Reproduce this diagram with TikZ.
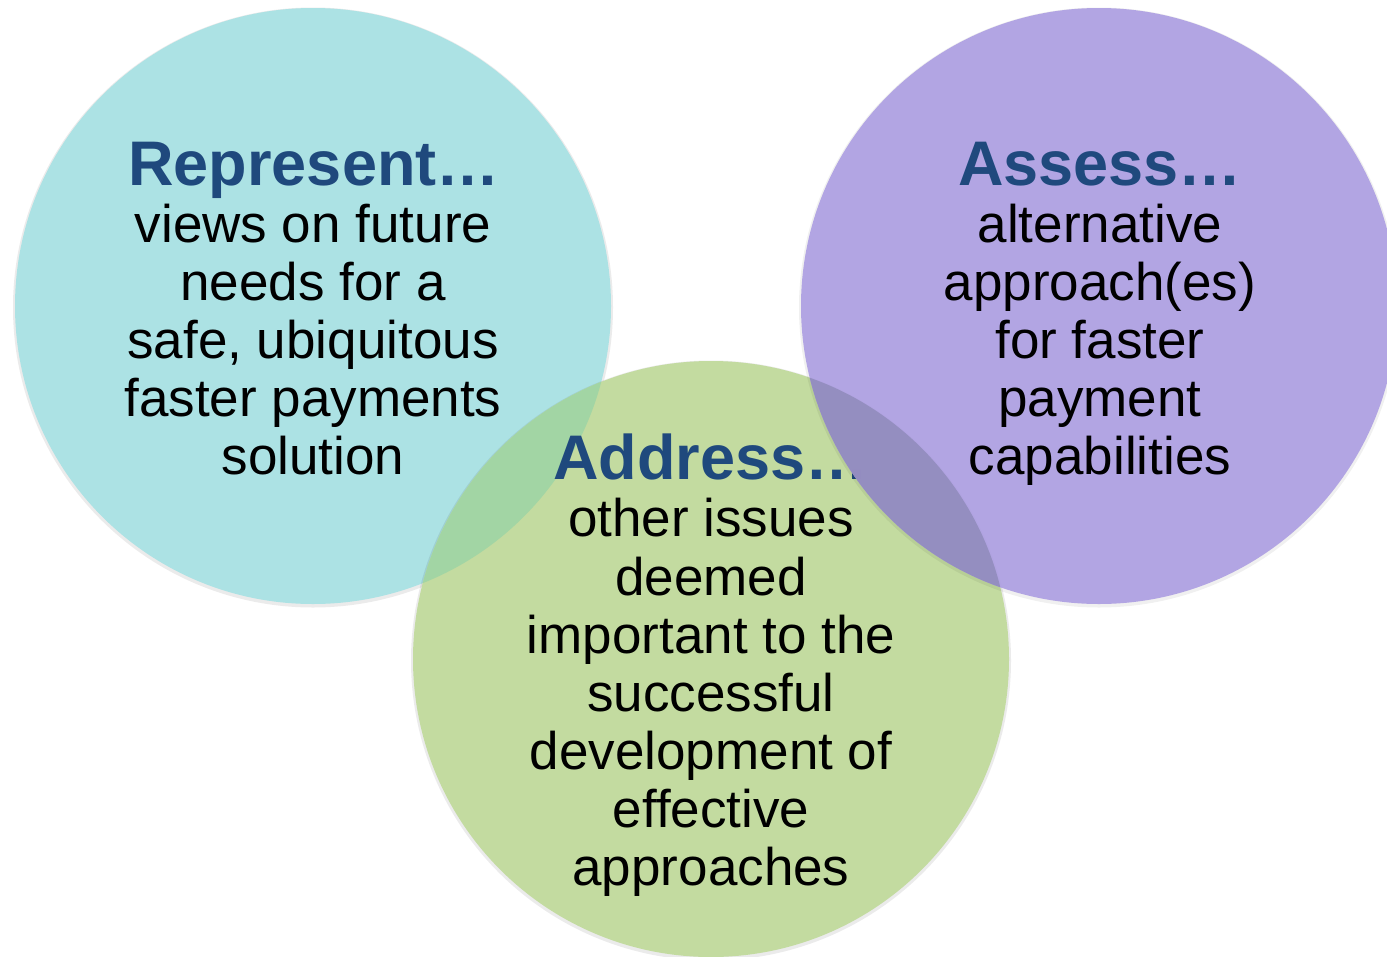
\documentclass[tikz,border=0pt]{standalone}
\usepackage{fontspec}
\setmainfont{Liberation Sans}
\definecolor{cyanc}{RGB}{172,226,228}
\definecolor{greenc}{RGB}{195,219,160}
\definecolor{purplec}{RGB}{172,157,226}
\definecolor{cgov}{RGB}{162,213,164}
\definecolor{pgov}{RGB}{146,140,190}
\definecolor{headc}{RGB}{31,73,125}
\newcommand\txtline[5]{%
  \node[#4] (#1) at (#2,#3) {#5};}
\begin{document}
\begin{tikzpicture}[x=1pt,y=-1pt,
  body/.style={anchor=base,inner sep=0pt,font=\fontsize{53}{58}\selectfont,text=black},
  head/.style={anchor=base,inner sep=0pt,font=\bfseries\fontsize{63}{70}\selectfont,text=headc},
  disc/.style={circle,inner sep=0pt,minimum size=596pt}]
\useasboundingbox (0,0) rectangle (1387,956);
\clip (0,0) rectangle (1387,956);
\fill[white] (0,0) rectangle (1387,956);
% left circle
\fill[black,opacity=0.08] (313,307.5) circle (300);
\node[disc,fill=cyanc] (L) at (313,306) {};
\txtline{r0}{314}{185}{head}{Represent…}
\txtline{r1}{313}{242}{body}{views on future}
\txtline{r2}{313}{300}{body}{needs for a}
\txtline{r3}{313}{358}{body}{safe, ubiquitous}
\txtline{r4}{313}{416}{body}{faster payments}
\txtline{r5}{313}{474}{body}{solution}
% bottom circle
\fill[black,opacity=0.08] (711,660.5) circle (300);
\node[disc,fill=greenc] (B) at (711,659) {};
\begin{scope}
  \clip (313,306) circle (298);
  \fill[cgov] (711,659) circle (298);
\end{scope}
\txtline{d0}{711}{479}{head}{Address…}
\txtline{d1}{711}{536}{body}{other issues}
\txtline{d2}{711}{595}{body}{deemed}
\txtline{d3}{711}{653}{body}{important to the}
\txtline{d4}{711}{711}{body}{successful}
\txtline{d5}{711}{769}{body}{development of}
\txtline{d6}{711}{827}{body}{effective}
\txtline{d7}{711}{885}{body}{approaches}
% right circle
\fill[black,opacity=0.06] (1099,307.5) circle (300);
\node[disc,fill=purplec,fill opacity=0.9] (R) at (1099,306) {};
\begin{scope}
  \clip (711,659) circle (298);
  \fill[pgov,opacity=0.9] (1099,306) circle (298);
\end{scope}
\txtline{a0}{1100}{185}{head}{Assess…}
\txtline{a1}{1100}{242}{body}{alternative}
\txtline{a2}{1100}{300}{body}{approach(es)}
\txtline{a3}{1100}{358}{body}{for faster}
\txtline{a4}{1100}{416}{body}{payment}
\txtline{a5}{1100}{474}{body}{capabilities}
\end{tikzpicture}
\end{document}
